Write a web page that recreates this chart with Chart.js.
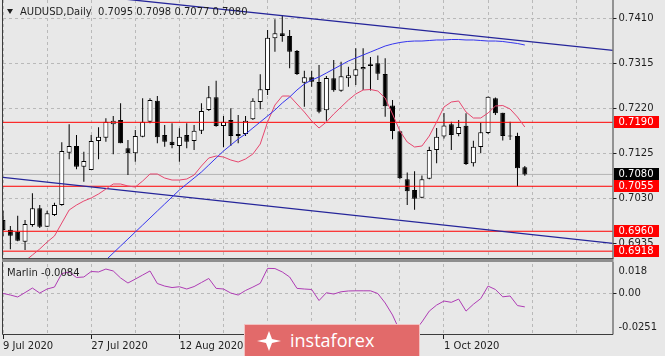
<!DOCTYPE html>
<html><head><meta charset="utf-8">
<script src="https://cdn.jsdelivr.net/npm/chart.js@4.4.1/dist/chart.umd.min.js"></script>
<style>
html,body{margin:0;padding:0;background:#e8e8e8;}
#wrap{position:relative;width:665px;height:356px;overflow:hidden;background:#e8e8e8;font-family:'DejaVu Sans',sans-serif;}
canvas{position:absolute;left:0;}
#cA{top:0;} #cB{top:262px;}
.ov{position:absolute;font-size:10px;color:#1e1e1e;white-space:pre;line-height:12px;}
#tri{position:absolute;left:7px;top:9px;width:0;height:0;border-left:3.5px solid transparent;border-right:3.5px solid transparent;border-top:5px solid #1e1e1e;}
#wm{position:absolute;left:244px;top:324px;width:176px;height:34px;background:#e26a6a;border:1px solid #f3c0c0;box-sizing:border-box;}
#wm span{position:absolute;left:45px;top:3px;font-family:'Open Sans',sans-serif;font-size:18px;color:#fff;line-height:24px;}
#wm svg{position:absolute;left:9px;top:4px;}
</style></head><body>
<div id="wrap">
<canvas id="cA" width="665" height="262"></canvas>
<canvas id="cB" width="665" height="94"></canvas>
<div id="tri"></div>
<div class="ov" style="left:20px;top:6px">AUDUSD,Daily  0.7095 0.7098 0.7077 0.7080</div>
<div class="ov" style="left:7px;top:267px">Marlin -0.0084</div>
<div id="wm"><svg width="30" height="24" viewBox="0 0 30 24"><g fill="#fff"><path d="M15 2 L18 10 L27 12 L18 14 L15 22 L12 14 L3 12 L12 10 Z"/></g></svg><span>instaforex</span></div>
</div>
<script>
// ---- categories (trading days) ----
const dates = ['9 Jul 2020','10 Jul 2020','13 Jul 2020','14 Jul 2020','15 Jul 2020','16 Jul 2020','17 Jul 2020','20 Jul 2020','21 Jul 2020','22 Jul 2020','23 Jul 2020','24 Jul 2020',
'27 Jul 2020','28 Jul 2020','29 Jul 2020','30 Jul 2020','31 Jul 2020','3 Aug 2020','4 Aug 2020','5 Aug 2020','6 Aug 2020','7 Aug 2020','10 Aug 2020','11 Aug 2020',
'12 Aug 2020','13 Aug 2020','14 Aug 2020','17 Aug 2020','18 Aug 2020','19 Aug 2020','20 Aug 2020','21 Aug 2020','24 Aug 2020','25 Aug 2020','26 Aug 2020','27 Aug 2020',
'28 Aug 2020','31 Aug 2020','1 Sep 2020','2 Sep 2020','3 Sep 2020','4 Sep 2020','7 Sep 2020','8 Sep 2020','9 Sep 2020','10 Sep 2020','11 Sep 2020','14 Sep 2020',
'15 Sep 2020','16 Sep 2020','17 Sep 2020','18 Sep 2020','21 Sep 2020','22 Sep 2020','23 Sep 2020','24 Sep 2020','25 Sep 2020','28 Sep 2020','29 Sep 2020','30 Sep 2020',
'1 Oct 2020','2 Oct 2020','5 Oct 2020','6 Oct 2020','7 Oct 2020','8 Oct 2020','9 Oct 2020','12 Oct 2020','13 Oct 2020','14 Oct 2020','15 Oct 2020','16 Oct 2020'];

// ---- OHLC series ----
const open  = [.69838,.6963,.69591,.6938,.69732,.70085,.69696,.69943,.70154,.71259,.714,.70963,
.70893,.71505,.71575,.71858,.71949,.71351,.71246,.71596,.71913,.72356,.71632,.71491,
.714,.71632,.71505,.71723,.7216,.72428,.71822,.71949,.71653,.71653,.71964,.72329,
.72582,.73673,.73779,.73722,.73405,.72736,.7285,.72751,.72154,.72829,.72567,.72829,
.72884,.73019,.73089,.73146,.7292,.72255,.71712,.70697,.70471,.70306,.70708,.71315,
.716,.71858,.71653,.71828,.71035,.71379,.71674,.72407,.72103,.71622,.71611,.7095];
const high  = [.70034,.69711,.69929,.69838,.70401,.70154,.70034,.70203,.71478,.71858,.71632,.7128,
.71632,.71795,.71985,.72033,.72301,.71527,.71738,.72407,.72407,.72455,.71843,.71879,
.71774,.71879,.71843,.72301,.72667,.72778,.72033,.72196,.72054,.72033,.72407,.72914,
.73849,.74075,.74165,.73849,.73426,.7299,.7299,.7311,.72878,.73215,.7318,.73074,
.73462,.73462,.73279,.7331,.73251,.72371,.71723,.7084,.70868,.70777,.71385,.7178,
.72097,.71913,.71949,.7209,.71512,.71892,.72445,.72424,.72103,.71913,.71681,.7098];
const low   = [.6950,.69219,.6939,.69204,.69696,.69669,.6969,.69922,.7014,.71119,.70908,.70646,
.70893,.71119,.71491,.71225,.71457,.70788,.71068,.71584,.71879,.71457,.71385,.71351,
.71068,.71351,.71315,.71653,.72139,.71807,.71372,.714,.71457,.71611,.71949,.72175,
.72477,.73391,.73602,.7304,.72899,.7223,.72652,.7209,.71934,.72546,.72546,.72652,
.72688,.72582,.7257,.72793,.72018,.71541,.70697,.70154,.70055,.70296,.70697,.71035,
.71558,.71315,.71605,.70999,.70967,.71246,.71653,.72054,.71516,.71527,.7055,.7077];
const close = [.69627,.69506,.69401,.69753,.70085,.69696,.69979,.70154,.71294,.714,.70963,.71083,
.71505,.71596,.71913,.71934,.71457,.71246,.71611,.71913,.72371,.71584,.71491,.71421,
.71596,.71491,.71723,.72139,.72428,.71822,.71913,.71611,.71611,.71934,.72356,.72597,
.73686,.73779,.73722,.73391,.7292,.7285,.72757,.72124,.72835,.72576,.72871,.72892,
.73021,.73068,.73127,.72926,.72238,.71717,.70718,.70446,.70285,.70699,.71315,.71596,
.71833,.71632,.71801,.7102,.71385,.71689,.72441,.7209,.71611,.716,.70929,.7080];

// ---- moving averages ----
const maSlow = [null,null,null,null,null,null,null,null,null,null,null,null,null,
.68843,.68993,.69141,.69289,.69437,.69584,.69732,.6988,.70028,.70176,.70323,.70471,.70598,.70724,.70851,.70999,
.71147,.71294,.71421,.71548,.71653,.7178,.71907,.72033,.7216,.72308,.72434,.72582,.72709,.72793,.72857,.72941,
.73025,.7311,.73194,.73258,.73321,.73384,.73448,.73511,.73553,.73585,.73606,.73616,.73616,.73627,.73638,.73638,
.73648,.73648,.73638,.73638,.73627,.73616,.73616,.73606,.73585,.73564,.73532];
const maFast = [null,null,null,.68972,.69099,.69226,.69373,.695,.69774,.70049,.70154,.70239,.70302,.70387,.70492,
.70598,.70598,.70556,.70534,.70661,.70809,.70809,.70724,.70682,.70682,.70703,.70788,.70978,.71147,.71189,.71168,
.71104,.71062,.71126,.71231,.71442,.71907,.72265,.72455,.72455,.72287,.72118,.71928,.7178,.71907,.72075,.72223,
.72371,.72498,.72582,.72593,.72561,.72413,.72075,.71717,.71484,.71379,.714,.71611,.71907,.72223,.72329,.7235,
.72118,.71991,.71991,.72097,.72244,.72255,.72181,.72012,.71801];

// ---- Marlin oscillator ----
const marlin = [-.0001,-.0011,-.0023,.0004,.0032,.0001,.0026,.0038,.0121,.0131,.0097,.0100,
.0134,.0131,.0149,.0137,.0094,.0063,.0087,.0112,.0137,.0060,.0044,.0035,
.0040,.0026,.0041,.0066,.0091,.0030,.0026,.0001,-.0011,.0017,.0038,.0061,
.0153,.0152,.0131,.0100,.0030,.0026,.0023,-.0045,.0003,-.0005,.0009,.0014,
.0015,.0015,.0015,-.0002,-.0060,-.0134,-.0233,-.0251,-.0233,-.0177,-.0110,-.0073,
-.0048,-.0056,-.0036,-.0110,-.0068,-.0033,.0044,.0023,-.0022,-.0017,-.0076,-.0084];

// ---- tick labels / levels ----
const priceTicks = [0.7410, 0.7315, 0.7220, 0.7125, 0.7030, 0.6935];
const marlinTicks = [0.018, 0.00, -0.0251];
const levels = [0.7190, 0.7055, 0.6960, 0.6918];
const bidLevel = 0.7080;
const channelUpper = [[0, 0.7477], [83, 0.7342]];
const channelLower = [[0, 0.7074], [83, 0.69346]];
const gridStep = 6, labelStep = 12;

// ---- ranges ----
const X_MIN = 0, X_MAX = 82.93;
const Y_MIN = 0.69036, Y_MAX = 0.74482;
const M_MIN = -0.0251, M_MAX = 0.018;

Chart.defaults.font.family = "'DejaVu Sans', sans-serif";
Chart.defaults.font.size = 10;
Chart.defaults.color = '#1e1e1e';

const GRID = '#b9b9b9';
const idx = dates.map((d, i) => i);
const xy = (arr) => arr.map((v, i) => v == null ? null : {x: i, y: v}).filter(p => p);
const seg = (pts) => pts.map(p => ({x: p[0], y: p[1]}));
const xTicks = () => { const t = []; for (let v = 0; v <= X_MAX; v += gridStep) t.push({value: v}); return t; };
const noPad = s => { s.paddingTop = 0; s.paddingBottom = 0; s.paddingLeft = 0; s.paddingRight = 0; };

const lineDs = (data, color, w, order) => ({type: 'line', data, borderColor: color, borderWidth: w, pointRadius: 0, tension: 0, fill: false, order, clip: 0});

const datasetsA = [
  lineDs([{x: -1, y: bidLevel}, {x: X_MAX + 1, y: bidLevel}], '#b4b4b4', 1, 10),
  {type: 'bar', data: idx.map(i => ({x: i, y: [low[i], high[i]]})), backgroundColor: '#000', barThickness: 1, grouped: false, inflateAmount: 0, order: 9, clip: 0},
  {type: 'bar', data: idx.map(i => ({x: i, y: [open[i], close[i]]})), backgroundColor: idx.map(i => close[i] >= open[i] ? '#ffffff' : '#000000'),
   borderColor: '#000', borderWidth: 1, borderSkipped: false, barThickness: 5, grouped: false, inflateAmount: 0, minBarLength: 1, order: 8, clip: 0},
  ...levels.map(v => lineDs([{x: -1, y: v}, {x: X_MAX + 1, y: v}], '#ff0000', 1, 5)),
  lineDs(seg(channelUpper), '#25259a', 1.3, 4),
  lineDs(seg(channelLower), '#25259a', 1.3, 4),
  lineDs(xy(maSlow), '#3535ee', 1, 3),
  lineDs(xy(maFast), '#e6466e', 1, 3)
];

const frameA = {
  id: 'frameA',
  afterDraw(chart) {
    const {ctx, chartArea: a} = chart;
    const ys = chart.scales.y;
    ctx.save();
    ctx.strokeStyle = '#3c3c3c'; ctx.lineWidth = 1;
    ctx.beginPath(); ctx.moveTo(2.5, 0); ctx.lineTo(2.5, a.bottom); ctx.moveTo(a.right + 0.5, 0); ctx.lineTo(a.right + 0.5, a.bottom); ctx.stroke();
    ctx.fillStyle = '#8e8e8e'; ctx.fillRect(2, a.bottom, a.right - 1, 4);
    ctx.fillStyle = '#4a4a4a'; ctx.fillRect(2, a.bottom, a.right - 1, 1);
    ctx.font = "10px 'DejaVu Sans'"; ctx.textBaseline = 'middle'; ctx.textAlign = 'left';
    const box = (v, bg) => {
      const py = Math.round(ys.getPixelForValue(v));
      ctx.fillStyle = bg; ctx.fillRect(a.right + 1.5, py - 6, 45, 12);
      ctx.fillStyle = '#ffffff'; ctx.fillText(v.toFixed(4), a.right + 6, py + 0.5);
    };
    box(bidLevel, '#000000');
    levels.forEach(v => box(v, '#ff0000'));
    ctx.restore();
  }
};

new Chart(document.getElementById('cA'), {
  type: 'bar',
  data: {datasets: datasetsA},
  options: {
    responsive: false, animation: false, devicePixelRatio: 1,
    layout: {padding: {left: 3, top: 0, right: 0, bottom: 4}},
    plugins: {legend: {display: false}, tooltip: {enabled: false}},
    scales: {
      x: {type: 'linear', min: X_MIN, max: X_MAX, offset: false,
          afterBuildTicks: s => { s.ticks = xTicks(); },
          afterFit: s => { s.height = 0; noPad(s); },
          ticks: {display: false}, grid: {color: GRID, drawTicks: false, offset: false}, border: {display: false, dash: [3, 3]}},
      y: {type: 'linear', position: 'right', min: Y_MIN, max: Y_MAX,
          afterBuildTicks: s => { s.ticks = priceTicks.map(v => ({value: v})); },
          afterFit: s => { s.width = 52.5; noPad(s); },
          ticks: {callback: v => v.toFixed(4), padding: 2, color: '#1e1e1e'},
          grid: {color: GRID, tickColor: '#1e1e1e', tickLength: 4}, border: {display: false, dash: [3, 3]}}
    }
  },
  plugins: [frameA]
});

const frameB = {
  id: 'frameB',
  afterDraw(chart) {
    const {ctx, chartArea: a} = chart;
    const ys = chart.scales.y;
    ctx.save();
    ctx.strokeStyle = '#3c3c3c'; ctx.lineWidth = 1;
    ctx.beginPath();
    ctx.moveTo(2.5, 0); ctx.lineTo(2.5, a.bottom + 0.5);
    ctx.lineTo(a.right + 0.5, a.bottom + 0.5); ctx.lineTo(a.right + 0.5, 0);
    ctx.stroke();
    ctx.font = "10px 'DejaVu Sans'"; ctx.textBaseline = 'middle'; ctx.textAlign = 'left'; ctx.fillStyle = '#1e1e1e';
    marlinTicks.forEach(v => {
      let py = ys.getPixelForValue(v);
      py = Math.min(Math.max(py, a.top + 7), a.bottom - 7);
      ctx.fillText(v === 0 ? '0.00' : String(v), a.right + 6, py);
    });
    ctx.restore();
  }
};

new Chart(document.getElementById('cB'), {
  type: 'line',
  data: {datasets: [lineDs(xy(marlin), '#ae3cb4', 1, 1)]},
  options: {
    responsive: false, animation: false, devicePixelRatio: 1,
    layout: {padding: {left: 3, top: 2, right: 0, bottom: 0}},
    plugins: {legend: {display: false}, tooltip: {enabled: false}},
    scales: {
      x: {type: 'linear', min: X_MIN, max: X_MAX, offset: false,
          afterBuildTicks: s => { s.ticks = xTicks(); },
          afterFit: s => { s.height = 22; noPad(s); },
          ticks: {autoSkip: false, maxRotation: 0, minRotation: 0, align: 'start', padding: 1, color: '#1e1e1e',
                  callback: v => (v % labelStep === 0 && dates[v]) ? dates[v] : ''},
          grid: {color: GRID, offset: false, tickLength: 5,
                 tickColor: c => (c.tick && c.tick.value % labelStep === 0 && dates[c.tick.value]) ? '#1e1e1e' : 'rgba(0,0,0,0)'},
          border: {display: false, dash: [3, 3]}},
      y: {type: 'linear', position: 'right', min: M_MIN, max: M_MAX,
          afterBuildTicks: s => { s.ticks = [{value: 0}]; },
          afterFit: s => { s.width = 52.5; noPad(s); },
          ticks: {display: false},
          grid: {color: GRID, tickColor: '#1e1e1e', tickLength: 4}, border: {display: false, dash: [3, 3]}}
    }
  },
  plugins: [frameB]
});
</script>
</body></html>
